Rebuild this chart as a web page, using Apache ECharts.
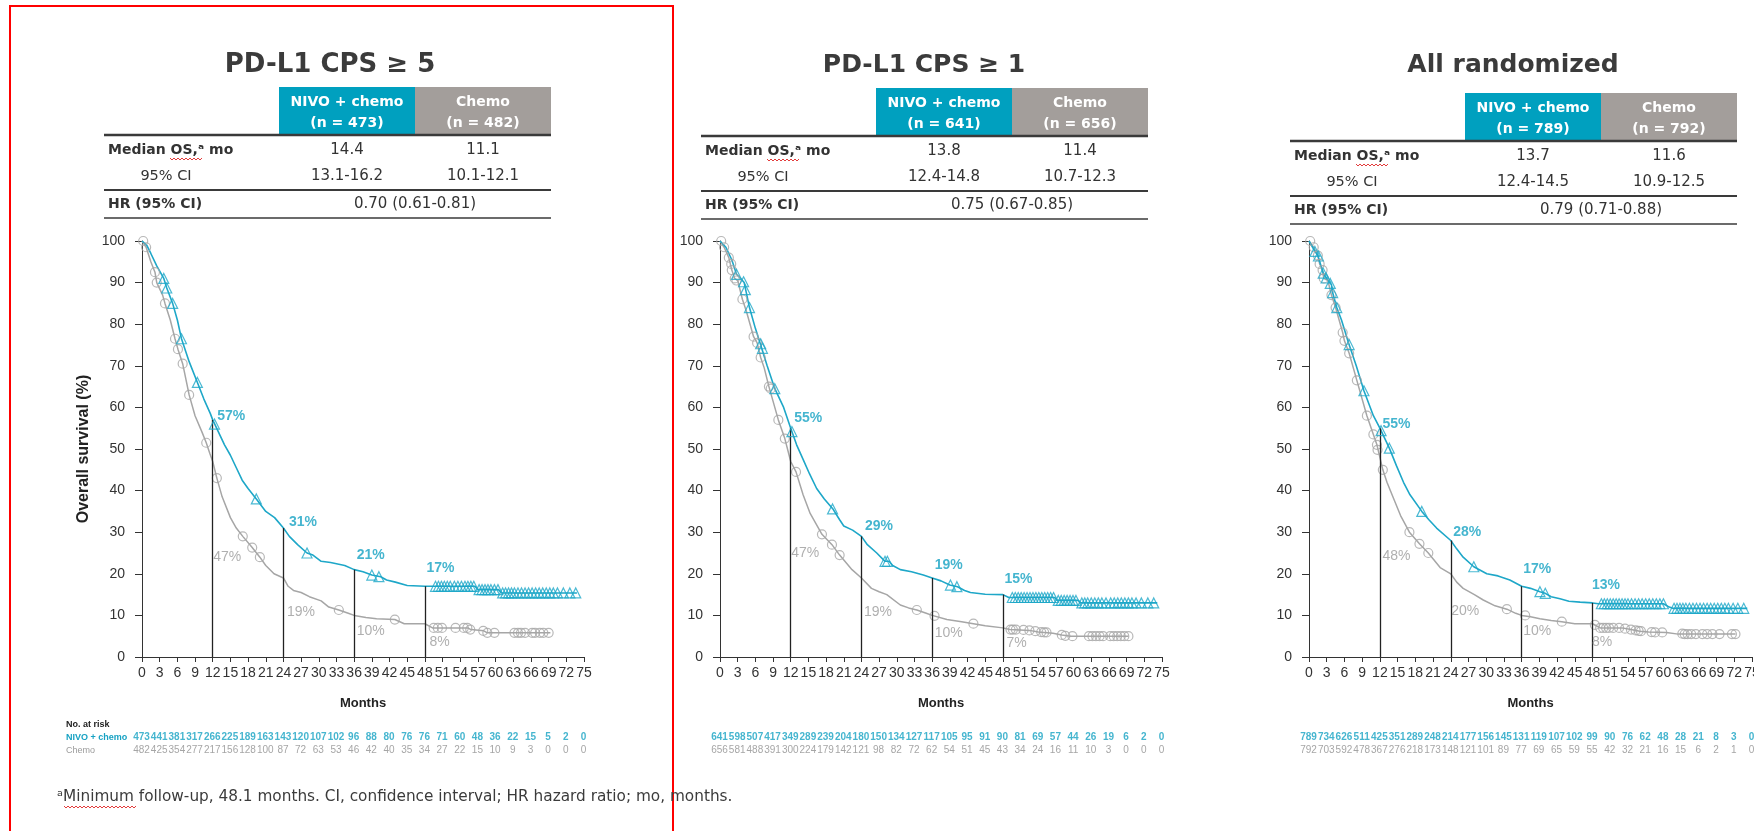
<!DOCTYPE html>
<html>
<head>
<meta charset="utf-8">
<script src="https://cdn.jsdelivr.net/npm/echarts@6/dist/echarts.min.js"></script>
<style>
  html, body { margin: 0; padding: 0; background: #fff; }
  #chart { width: 1754px; height: 831px; }
</style>
</head>
<body>
<div id="chart"></div>
<script>
// ---------- Panel text ----------
const panelTitles = ['PD-L1 CPS ≥ 5', 'PD-L1 CPS ≥ 1', 'All randomized'];
const armNames = ['NIVO + chemo', 'Chemo'];
const armN = [[473, 482], [641, 656], [789, 792]];
const medianOS = [['14.4', '11.1'], ['13.8', '11.4'], ['13.7', '11.6']];
const medianCI = [['13.1-16.2', '10.1-12.1'], ['12.4-14.8', '10.7-12.3'], ['12.4-14.5', '10.9-12.5']];
const hazardRatio = ['0.70 (0.61-0.81)', '0.75 (0.67-0.85)', '0.79 (0.71-0.88)'];
const footnote = 'ᵃMinimum follow-up, 48.1 months. CI, confidence interval; HR hazard ratio; mo, months.';

// ---------- Landmark survival (%) at 12, 24, 36, 48 months ----------
const landmarkMonths = [12, 24, 36, 48];
const landmarkNivo = [[57, 31, 21, 17], [55, 29, 19, 15], [55, 28, 17, 13]];
const landmarkChemo = [[47, 19, 10, 8], [47, 19, 10, 7], [48, 20, 10, 8]];

// ---------- Kaplan-Meier curves [month, survival %] ----------
const km5Nivo = [[0,100],[0.8,99],[1.5,97],[2.5,94],[3.7,91],[4.2,88.7],[5.2,85],[6,81],[6.7,76.5],[8,71],[9.4,66],[10.5,62],[11.6,58.5],[12,57],[13,54],[14,51],[15,48.5],[16,45.5],[17,42.5],[18,40.5],[19.4,38],[21,35],[22.5,33.5],[24,31],[25,29],[26.4,27],[28,25],[29,24.5],[30.4,23],[32,22.7],[34.4,22],[36,21],[37.5,20.5],[39,19.7],[40.5,19.3],[41.5,18.5],[43,18],[45,17.2],[48,17],[56.5,17],[57,16.2],[60.5,16.2],[61,15.4],[73.8,15.4]];
const km5Chemo = [[0,100],[0.7,98.5],[1.5,95],[2.2,92.5],[2.5,90],[3.5,87],[3.9,85],[4.8,81],[5.6,76.5],[6.1,74],[6.9,70.5],[8,63],[9,58],[10.2,54],[10.9,51.5],[11.5,49],[12,47],[12.7,43],[13.6,38.5],[15,33.5],[16,31],[17.1,29],[18.7,26.3],[20,24],[21,22],[22.4,20],[24,19],[24.8,17],[25.7,16],[27,15.5],[28.4,14.5],[30.4,13.5],[31.7,12],[33.4,11.3],[35,10.5],[36,10],[38,9.5],[39.8,9.2],[42.9,9],[44.5,8],[48,8],[49.3,7],[55.3,7],[55.8,6.6],[58,6.3],[58.6,5.8],[69.3,5.8]];
const km1Nivo = [[0,100],[1,98.5],[2,95.5],[2.8,92],[3.5,91],[4.1,90],[4.4,88],[5,84],[6,79],[6.8,75.5],[8,70],[9.3,64.5],[10.8,60],[12,55],[13,51],[14.1,47.5],[15.2,44],[16.4,40.5],[17.7,38],[19.2,35.5],[20.3,33],[21,31.5],[22.5,30.5],[24,29],[25,27],[26.6,25],[28,23],[28.7,23],[29.3,22],[30.6,21],[32.5,20.5],[34.5,19.7],[36,19],[37.5,18.3],[39,17.3],[40.3,16.9],[41.5,16],[42.5,15.5],[45,15.1],[48,15],[49,14.3],[56.8,14.3],[57.2,13.6],[60.8,13.6],[61.2,13],[74.2,13]];
const km1Chemo = [[0,100],[0.7,98.5],[1.5,96],[2,93],[2.5,91],[3,90.5],[3.8,86],[4.5,83],[5.7,77],[6.3,75.5],[6.9,72],[7.5,69.5],[8.3,65],[9.9,57],[11,52.5],[12,47],[12.9,44.5],[14.1,39],[15.3,34.5],[16.3,32],[17.3,29.5],[19,27],[20.3,24.5],[22.4,21],[24,19],[25.7,16.5],[27,15.7],[28.3,15],[30.6,12.5],[32,11.8],[33.4,11.3],[35,10.5],[36,10],[38.5,9],[41,8.5],[43,8],[45,7.5],[48,7],[49.2,6.6],[52.5,6.4],[54,6],[56.5,5.7],[58,5.3],[59.5,5],[69.3,5]];
const kmAllNivo = [[0,100],[1,97.5],[1.5,96.5],[2.4,92.3],[3,91],[3.8,89.5],[4,87.6],[4.7,84],[5.5,81],[6.7,75.5],[8,70],[9.3,64],[10.9,58],[12,55],[13,52],[13.6,50.2],[14.8,46],[16,42],[17.1,39],[19.1,35],[20.3,33],[21.6,31],[24,28],[25,26],[26.1,24],[27.9,21.7],[30.1,20],[32,19.5],[34,18.5],[36,17],[37.5,16.5],[39.1,15.7],[40,15.3],[41,14.5],[42.5,14],[44,13.4],[45.9,13.2],[48,13],[49,12.8],[60,12.8],[61,12],[61.6,11.7],[74.2,11.7]];
const kmAllChemo = [[0,100],[0.8,98.5],[1.5,96.5],[1.8,94.5],[2.3,93],[2.5,91],[3.2,90.5],[3.8,87],[4.5,84],[5.7,78],[6,76],[6.8,73],[8.1,66.5],[9.8,58],[10.9,53.5],[11.5,51],[12,48],[12.5,45],[13.2,42],[14.2,38.5],[15.5,34],[17,30],[18.7,27.2],[20.2,25],[22.2,21.5],[24,20],[25,18],[26.1,16.5],[28,15],[29.5,13.7],[31.5,12.3],[33.5,11.5],[35,10.5],[36,10],[37.5,9.7],[39.1,9.2],[41,8.8],[42.8,8.5],[45,8],[48,8],[48.4,7.7],[49.3,7],[53,7],[54.5,6.6],[56,6.2],[57.5,6],[60.5,5.9],[62.5,5.5],[72.2,5.5]];

// ---------- Censored observations [month, survival %] ----------
const cens5Nivo = [[3.7,91],[4.2,88.7],[5.2,85],[6.7,76.5],[9.4,66],[12.3,56],[19.4,38],[28,25],[39,19.7],[40.2,19.3],[49.8,17],[50.3,17],[50.8,17],[51.3,17],[51.8,17],[52.3,17],[53,17],[53.6,17],[54.2,17],[54.8,17],[55.3,17],[55.8,17],[56.3,17],[57.2,16.2],[57.7,16.2],[58.2,16.2],[58.7,16.2],[59.2,16.2],[59.8,16.2],[60.4,16.2],[61.2,15.4],[61.7,15.4],[62.2,15.4],[62.7,15.4],[63.2,15.4],[63.8,15.4],[64.4,15.4],[65,15.4],[65.6,15.4],[66.2,15.4],[66.8,15.4],[67.4,15.4],[68,15.4],[68.6,15.4],[69.2,15.4],[69.8,15.4],[70.5,15.4],[71.5,15.4],[72.6,15.4],[73.6,15.4]];
const cens5Chemo = [[0.2,100],[0.7,98.5],[2.2,92.5],[2.5,90],[3.9,85],[5.6,76.5],[6.1,74],[6.9,70.5],[8,63],[10.9,51.5],[12.7,43],[17.1,29],[18.7,26.3],[20,24],[33.4,11.3],[42.9,9],[49.5,7],[50.2,7],[50.9,7],[53.2,7],[54.6,7],[55.2,7],[55.7,6.6],[57.9,6.3],[58.6,5.8],[59.8,5.8],[63.2,5.8],[63.8,5.8],[64.3,5.8],[65,5.8],[66.2,5.8],[66.7,5.8],[67.5,5.8],[68.1,5.8],[69,5.8]];
const cens1Nivo = [[2.8,92],[4,90.2],[4.3,88.3],[5,84],[6.9,75.3],[7.2,74.2],[9.3,64.5],[12.2,54.2],[19.1,35.6],[28,23],[28.4,23],[39.1,17.3],[40.2,16.9],[49.6,14.3],[50.1,14.3],[50.6,14.3],[51.1,14.3],[51.6,14.3],[52.1,14.3],[52.6,14.3],[53.1,14.3],[53.6,14.3],[54.1,14.3],[54.6,14.3],[55.1,14.3],[55.6,14.3],[56.1,14.3],[56.6,14.3],[57.4,13.6],[57.9,13.6],[58.4,13.6],[58.9,13.6],[59.4,13.6],[59.9,13.6],[60.4,13.6],[61.4,13],[61.9,13],[62.4,13],[63,13],[63.6,13],[64.2,13],[64.8,13],[65.5,13],[66.3,13],[66.9,13],[67.5,13],[68.1,13],[68.7,13],[69.3,13],[69.9,13],[70.6,13],[71.5,13],[72.6,13],[73.6,13]];
const cens1Chemo = [[0.2,100],[0.7,98.5],[1.5,96],[1.9,94.5],[2,93],[2.5,91],[2.8,90.5],[3.8,86],[5.7,77],[6.3,75.5],[6.9,72],[8.3,65],[8.6,64.5],[9.9,57],[11,52.5],[12.9,44.5],[17.3,29.5],[19,27],[20.3,24.5],[33.4,11.3],[36.4,9.9],[43,8],[49.3,6.6],[49.7,6.6],[50.2,6.6],[51.5,6.5],[52.5,6.4],[53.5,6.2],[54.5,6],[55,5.9],[55.4,5.9],[58,5.3],[58.6,5.1],[59.8,5],[62.6,5],[63.2,5],[63.8,5],[64.4,5],[65,5],[66.2,5],[66.8,5],[67.4,5],[68,5],[68.6,5],[69.3,5]];
const censAllNivo = [[1,97.5],[1.6,96.4],[2.4,92.3],[2.9,91.1],[3.6,89.8],[4,87.6],[4.7,84],[6.8,75.1],[9.3,64],[12.2,54.4],[13.6,50.2],[19.1,35],[27.9,21.7],[39.1,15.7],[40,15.3],[49.5,12.8],[50,12.8],[50.5,12.8],[51,12.8],[51.5,12.8],[52,12.8],[52.5,12.8],[53,12.8],[53.5,12.8],[54,12.8],[54.6,12.8],[55.2,12.8],[55.8,12.8],[56.4,12.8],[57,12.8],[57.6,12.8],[58.2,12.8],[58.8,12.8],[59.4,12.8],[60,12.8],[61.8,11.7],[62.3,11.7],[62.8,11.7],[63.3,11.7],[63.8,11.7],[64.4,11.7],[65,11.7],[65.6,11.7],[66.2,11.7],[66.8,11.7],[67.4,11.7],[68,11.7],[68.6,11.7],[69.2,11.7],[69.8,11.7],[70.4,11.7],[71,11.7],[71.8,11.7],[72.6,11.7],[73.6,11.7]];
const censAllChemo = [[0.2,100],[0.8,98.5],[1.5,96.5],[1.8,94.5],[2.3,93],[2.5,91],[3.8,87],[4.5,84],[5.7,78],[6,76],[6.8,73],[8.1,66.5],[9.8,58],[10.9,53.5],[11.5,51],[11.6,49.8],[12.5,45],[17,30],[18.7,27.2],[20.2,25],[33.5,11.5],[36.6,10],[42.8,8.5],[48.4,7.7],[49.3,7],[49.8,7],[50.3,7],[50.8,7],[51.5,7],[52.5,7],[53.5,6.8],[54.5,6.6],[55.3,6.4],[55.8,6.3],[56.2,6.2],[58,6],[58.6,5.9],[59.8,5.9],[63.2,5.6],[63.6,5.5],[64.1,5.5],[64.7,5.5],[65.5,5.5],[66.6,5.5],[67.4,5.5],[68.3,5.5],[69.5,5.5],[71.6,5.5],[72.2,5.5]];

// ---------- Number at risk ----------
const riskMonths = [0,3,6,9,12,15,18,21,24,27,30,33,36,39,42,45,48,51,54,57,60,63,66,69,72,75];
const risk5Nivo = [473,441,381,317,266,225,189,163,143,120,107,102,96,88,80,76,76,71,60,48,36,22,15,5,2,0];
const risk5Chemo = [482,425,354,277,217,156,128,100,87,72,63,53,46,42,40,35,34,27,22,15,10,9,3,0,0,0];
const risk1Nivo = [641,598,507,417,349,289,239,204,180,150,134,127,117,105,95,91,90,81,69,57,44,26,19,6,2,0];
const risk1Chemo = [656,581,488,391,300,224,179,142,121,98,82,72,62,54,51,45,43,34,24,16,11,10,3,0,0,0];
const riskAllNivo = [789,734,626,511,425,351,289,248,214,177,156,145,131,119,107,102,99,90,76,62,48,28,21,8,3,0];
const riskAllChemo = [792,703,592,478,367,276,218,173,148,121,101,89,77,69,65,59,55,42,32,21,16,15,6,2,1,0];

const panelCurves = [
  { nivo: km5Nivo, chemo: km5Chemo, censNivo: cens5Nivo, censChemo: cens5Chemo, riskNivo: risk5Nivo, riskChemo: risk5Chemo },
  { nivo: km1Nivo, chemo: km1Chemo, censNivo: cens1Nivo, censChemo: cens1Chemo, riskNivo: risk1Nivo, riskChemo: risk1Chemo },
  { nivo: kmAllNivo, chemo: kmAllChemo, censNivo: censAllNivo, censChemo: censAllChemo, riskNivo: riskAllNivo, riskChemo: riskAllChemo }
];

// ---------- Layout and styling ----------
const CYAN = '#1ea7c8';
const CYAN_TXT = '#17a2c3';
const CYAN_HEAD = '#00a0bf';
const GRAY_LINE = '#a6a6a6';
const GRAY_TXT = '#9b9b9b';
const GRAY_HEAD = '#a39e9b';
const DARK = '#333333';
const FONT_T = '"DejaVu Sans", sans-serif';
const FONT_P = '"Liberation Sans Narrow", "Liberation Sans", sans-serif';
const FONT_R = '"Liberation Sans", Arial, sans-serif';

const layout = [
  { gridLeft: 142, gridWidth: 442, titleX: 330, titleSize: 26, headTop: 87, cellX: 279, ruleX: 104 },
  { gridLeft: 720, gridWidth: 442, titleX: 924, titleSize: 25, headTop: 88, cellX: 876, ruleX: 701 },
  { gridLeft: 1309, gridWidth: 443, titleX: 1513, titleSize: 25, headTop: 93, cellX: 1465, ruleX: 1290 }
];
const CELL_W = 136;
const GRID_TOP = 241, GRID_H = 416;
const RISK_TOP = 731, RISK_H = 26;

// label offsets (px) relative to each landmark point
const nivoLabelOffset = [[[5,-3],[6,-5],[3,-14],[2,-18]], [[4,-10],[4,-10],[3,-12],[2,-15]], [[3,-4],[3,-8],[2,-17],[0,-17]]];
const chemoLabelOffset = [[[1,96],[4,35],[3,16],[5,19]], [[1,92],[3,35],[3,18],[4,16]], [[3,99],[1,38],[2,16],[0,19]]];

function text(x, y, str, font, fill, align) {
  const a = align || 'left';
  return { type: 'text', x: x, y: y, silent: true,
    style: { text: str, font: font, fill: fill, align: a, verticalAlign: 'middle', textAlign: a, textVerticalAlign: 'middle' } };
}
function hline(x1, x2, y, w, color) {
  return { type: 'line', silent: true, shape: { x1: x1, y1: y, x2: x2, y2: y }, style: { stroke: color, lineWidth: w } };
}
function squiggle(x0, x1, y) {
  const pts = [];
  let up = true;
  for (let x = x0; x <= x1; x += 2) { pts.push([x, up ? y - 1 : y + 1]); up = !up; }
  return { type: 'polyline', silent: true, shape: { points: pts }, style: { stroke: '#e23b3b', lineWidth: 1, fill: null } };
}

const graphics = [];
// frame around the first panel
graphics.push({ type: 'rect', silent: true, shape: { x: 10, y: 6, width: 663, height: 840 }, style: { fill: null, stroke: '#ff0000', lineWidth: 2 } });

layout.forEach(function (L, i) {
  const r1 = L.headTop + 48;
  graphics.push(text(L.titleX, 65, panelTitles[i], 'bold ' + L.titleSize + 'px ' + FONT_T, '#3b3b3b', 'center'));
  graphics.push({ type: 'rect', silent: true, shape: { x: L.cellX, y: L.headTop, width: CELL_W, height: 48 }, style: { fill: CYAN_HEAD } });
  graphics.push({ type: 'rect', silent: true, shape: { x: L.cellX + CELL_W, y: L.headTop, width: CELL_W, height: 48 }, style: { fill: GRAY_HEAD } });
  [0, 1].forEach(function (k) {
    const cx = L.cellX + CELL_W * k + CELL_W / 2;
    graphics.push(text(cx, L.headTop + 15, armNames[k], 'bold 14px ' + FONT_T, '#ffffff', 'center'));
    graphics.push(text(cx, L.headTop + 36, '(n = ' + armN[i][k] + ')', 'bold 14px ' + FONT_T, '#ffffff', 'center'));
    graphics.push(text(cx, r1 + 15, medianOS[i][k], '15px ' + FONT_T, DARK, 'center'));
    graphics.push(text(cx, r1 + 41, medianCI[i][k], '15px ' + FONT_T, DARK, 'center'));
  });
  const right = L.cellX + 2 * CELL_W;
  graphics.push(hline(L.ruleX, right, r1, 2.5, '#3a3a3a'));
  graphics.push(hline(L.ruleX, right, r1 + 55, 2, '#3a3a3a'));
  graphics.push(hline(L.ruleX, right, r1 + 83, 2, '#6b6b6b'));
  graphics.push(text(L.ruleX + 4, r1 + 15, 'Median OS,ᵃ mo', 'bold 14px ' + FONT_T, DARK, 'left'));
  graphics.push(squiggle(L.ruleX + 66, L.ruleX + 98, r1 + 24));
  graphics.push(text(L.ruleX + 62, r1 + 41, '95% CI', '14.5px ' + FONT_T, DARK, 'center'));
  graphics.push(text(L.ruleX + 4, r1 + 69, 'HR (95% CI)', 'bold 14px ' + FONT_T, DARK, 'left'));
  graphics.push(text(L.cellX + CELL_W, r1 + 69, hazardRatio[i], '15px ' + FONT_T, DARK, 'center'));
});

graphics.push(text(66, 725, 'No. at risk', 'bold 9px ' + FONT_R, '#222', 'left'));
graphics.push(text(57, 797, footnote, '15.3px ' + FONT_T, '#3b3b3b', 'left'));
graphics.push(squiggle(64, 137, 807));

// ---------- Axes, grids, series ----------
const grids = [], xAxes = [], yAxes = [], series = [];

layout.forEach(function (L, i) {
  const P = panelCurves[i];
  const gi = i * 2, ri = i * 2 + 1;
  grids.push({ left: L.gridLeft, top: GRID_TOP, width: L.gridWidth, height: GRID_H, outerBoundsMode: 'none', containLabel: false });
  grids.push({ left: L.gridLeft, top: RISK_TOP, width: L.gridWidth, height: RISK_H, outerBoundsMode: 'none', containLabel: false });

  xAxes.push({
    gridIndex: gi, type: 'value', min: 0, max: 75, interval: 3,
    axisLine: { show: true, lineStyle: { color: '#333', width: 1 } },
    axisTick: { show: true, length: 5, lineStyle: { color: '#333' } },
    axisLabel: { color: '#333', fontSize: 14, fontFamily: FONT_P, margin: 9 },
    splitLine: { show: false },
    name: 'Months', nameLocation: 'middle', nameGap: 40,
    nameTextStyle: { fontFamily: FONT_R, fontWeight: 'bold', fontSize: 13, color: '#222' }
  });
  xAxes.push({ gridIndex: ri, type: 'value', min: 0, max: 75, show: false });

  const y = {
    gridIndex: gi, type: 'value', min: 0, max: 100, interval: 10,
    axisLine: { show: true, lineStyle: { color: '#333', width: 1 } },
    axisTick: { show: true, length: 7, lineStyle: { color: '#333' } },
    axisLabel: { color: '#333', fontSize: 14, fontFamily: FONT_P, margin: 17 },
    splitLine: { show: false }
  };
  if (i === 0) {
    y.name = 'Overall survival (%)';
    y.nameLocation = 'middle';
    y.nameGap = 50;
    y.nameTextStyle = { fontFamily: FONT_R, fontWeight: 'bold', fontSize: 16, color: '#222' };
  }
  yAxes.push(y);
  yAxes.push({
    gridIndex: ri, type: 'category', data: armNames, inverse: true,
    axisLine: { show: false }, axisTick: { show: false }, splitLine: { show: false },
    axisLabel: {
      show: i === 0, interval: 0, hideOverlap: false, align: 'left', margin: L.gridLeft - 66,
      formatter: function (v, idx) { return idx === 0 ? '{n|' + v + '}' : '{c|' + v + '}'; },
      rich: {
        n: { fontFamily: FONT_R, fontWeight: 'bold', fontSize: 9, color: CYAN_TXT },
        c: { fontFamily: FONT_R, fontSize: 9, color: GRAY_TXT }
      }
    }
  });

  // curves
  series.push({
    type: 'line', xAxisIndex: gi, yAxisIndex: gi, data: P.chemo, showSymbol: false, silent: true,
    lineStyle: { color: GRAY_LINE, width: 1.5 }, z: 2
  });
  series.push({
    type: 'line', xAxisIndex: gi, yAxisIndex: gi, data: P.nivo, showSymbol: false, silent: true,
    lineStyle: { color: CYAN, width: 1.6 }, z: 3,
    markLine: {
      silent: true, symbol: ['none', 'none'], label: { show: false },
      lineStyle: { color: '#222', width: 1.3, type: 'solid' },
      data: landmarkMonths.map(function (m, k) { return [{ coord: [m, 0] }, { coord: [m, landmarkNivo[i][k]] }]; })
    }
  });
  // censor marks
  series.push({
    type: 'scatter', xAxisIndex: gi, yAxisIndex: gi, data: P.censChemo, symbol: 'circle', symbolSize: 9, silent: true,
    itemStyle: { color: 'rgba(255,255,255,0)', borderColor: GRAY_LINE, borderWidth: 1.2 }, z: 4
  });
  series.push({
    type: 'scatter', xAxisIndex: gi, yAxisIndex: gi, data: P.censNivo, symbol: 'triangle', symbolSize: 10, silent: true,
    itemStyle: { color: 'rgba(255,255,255,0)', borderColor: CYAN, borderWidth: 1.2 }, z: 5
  });
  // landmark labels
  series.push({
    type: 'scatter', xAxisIndex: gi, yAxisIndex: gi, symbolSize: 1, silent: true, z: 6,
    itemStyle: { color: 'rgba(0,0,0,0)' },
    label: { show: true, position: [0, 0], align: 'left', verticalAlign: 'middle',
      fontFamily: FONT_R, fontWeight: 'bold', fontSize: 14, color: CYAN_TXT,
      formatter: function (p) { return p.value[1] + '%'; } },
    data: landmarkMonths.map(function (m, k) { return { value: [m, landmarkNivo[i][k]], label: { offset: nivoLabelOffset[i][k] } }; })
  });
  series.push({
    type: 'scatter', xAxisIndex: gi, yAxisIndex: gi, symbolSize: 1, silent: true, z: 6,
    itemStyle: { color: 'rgba(0,0,0,0)' },
    label: { show: true, position: [0, 0], align: 'left', verticalAlign: 'middle',
      fontFamily: FONT_R, fontSize: 14, color: GRAY_TXT,
      formatter: function (p) { return p.value[1] + '%'; } },
    data: landmarkMonths.map(function (m, k) { return { value: [m, landmarkChemo[i][k]], label: { offset: chemoLabelOffset[i][k] } }; })
  });
  // number at risk
  series.push({
    type: 'scatter', xAxisIndex: ri, yAxisIndex: ri, symbolSize: 1, silent: true,
    itemStyle: { color: 'rgba(0,0,0,0)' },
    label: { show: true, position: [0, 0], align: 'center', verticalAlign: 'middle',
      fontFamily: FONT_R, fontWeight: 'bold', fontSize: 10, color: CYAN_TXT,
      formatter: function (p) { return p.value[2]; } },
    data: riskMonths.map(function (m, k) { return [m, 0, P.riskNivo[k]]; })
  });
  series.push({
    type: 'scatter', xAxisIndex: ri, yAxisIndex: ri, symbolSize: 1, silent: true,
    itemStyle: { color: 'rgba(0,0,0,0)' },
    label: { show: true, position: [0, 0], align: 'center', verticalAlign: 'middle',
      fontFamily: FONT_R, fontSize: 10, color: '#8e8e8e',
      formatter: function (p) { return p.value[2]; } },
    data: riskMonths.map(function (m, k) { return [m, 1, P.riskChemo[k]]; })
  });
});

const chart = echarts.init(document.getElementById('chart'), null, { renderer: 'canvas' });
chart.setOption({
  backgroundColor: '#ffffff',
  animation: false,
  grid: grids,
  xAxis: xAxes,
  yAxis: yAxes,
  series: series,
  graphic: { elements: graphics }
});
</script>
</body>
</html>
